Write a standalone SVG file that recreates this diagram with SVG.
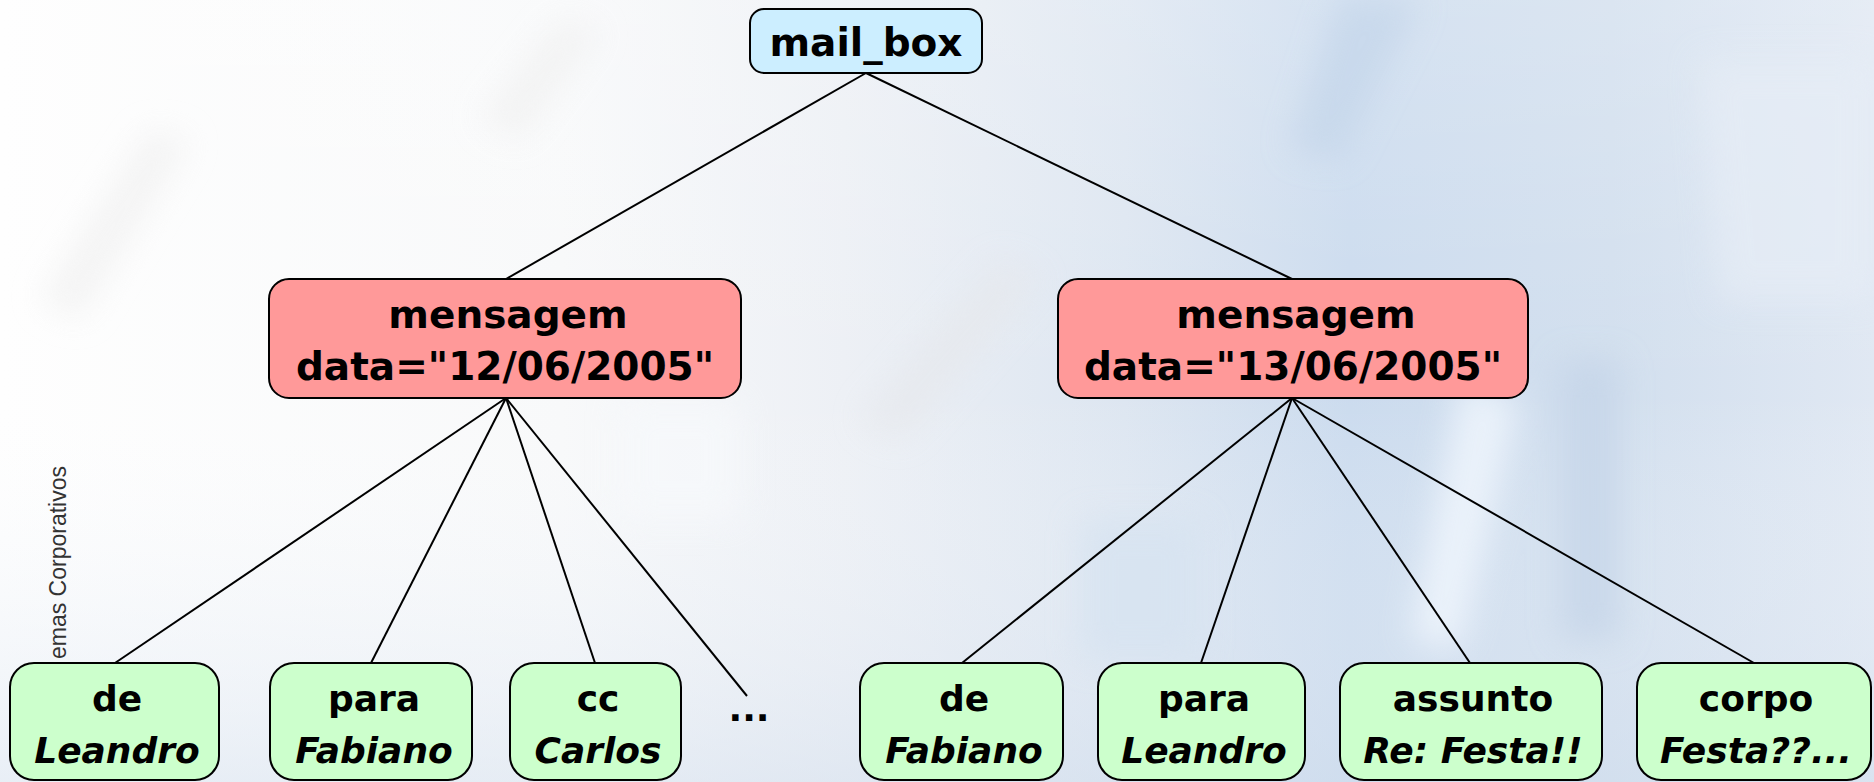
<svg xmlns="http://www.w3.org/2000/svg" width="1874" height="782" viewBox="0 0 1874 782">
  <defs>
    <linearGradient id="bgBase" x1="0" y1="0" x2="1" y2="0">
      <stop offset="0" stop-color="#fefefe"/>
      <stop offset="0.3" stop-color="#f8f9fa"/>
      <stop offset="0.45" stop-color="#edf0f5"/>
      <stop offset="0.6" stop-color="#dde6f1"/>
      <stop offset="0.72" stop-color="#cbdbee"/>
      <stop offset="0.86" stop-color="#d2dfee"/>
      <stop offset="1" stop-color="#e0e8f3"/>
    </linearGradient>
    <linearGradient id="bgShade" x1="0" y1="0" x2="0" y2="1">
      <stop offset="0" stop-color="#ffffff" stop-opacity="0.2"/>
      <stop offset="0.5" stop-color="#ffffff" stop-opacity="0"/>
      <stop offset="1" stop-color="#d3dfee" stop-opacity="0.5"/>
    </linearGradient>
    <filter id="soft" x="-20%" y="-20%" width="140%" height="140%">
      <feGaussianBlur stdDeviation="16"/>
    </filter>
    <style>
      .box { stroke: #000; stroke-width: 2; }
      .root { fill: #cceeff; }
      .msg { fill: #ff9999; }
      .leaf { fill: #ccffcc; }
      .lbl { font-family: "DejaVu Sans", Verdana, sans-serif; font-weight: bold; fill: #000; text-anchor: middle; }
      .big { font-size: 39px; }
      .small { font-size: 36px; }
      .val { font-style: italic; }
      .edge { stroke: #000; stroke-width: 2; fill: none; }
    </style>
  </defs>

  <!-- soft photographic backdrop -->
  <g id="background">
    <rect x="0" y="0" width="1874" height="782" fill="url(#bgBase)"/>
    <rect x="0" y="0" width="1874" height="782" fill="url(#bgShade)"/>
    <g filter="url(#soft)" opacity="0.7">
      <path d="M40 300 L150 130 L190 140 L80 320 Z" fill="#f0f0f0"/>
      <path d="M480 120 L560 20 L600 30 L520 140 Z" fill="#f0f0f0"/>
      <path d="M860 420 L1000 260 L1040 280 L900 440 Z" fill="#e6e8ec"/>
      <path d="M1340 0 L1420 0 L1340 160 L1290 150 Z" fill="#c4d6ea"/>
      <path d="M1460 380 L1520 400 L1460 650 L1410 640 Z" fill="#f4f9ff"/>
      <path d="M1560 360 L1620 360 L1620 640 L1560 640 Z" fill="#c4d4e8"/>
      <path d="M1700 60 L1874 60 L1874 300 L1720 300 Z" fill="#e6edf6"/>
      <path d="M1080 520 L1200 520 L1200 660 L1080 660 Z" fill="#d6e3f1"/>
      <path d="M620 400 L740 400 L740 520 L620 520 Z" fill="#f7f9fc"/>
    </g>
  </g>

  <!-- vertical side caption -->
  <text x="66" y="466" transform="rotate(-90 66 466)" text-anchor="end" font-family="'Liberation Sans', Arial, sans-serif" font-size="23" fill="#333">emas Corporativos</text>

  <!-- tree edges -->
  <g id="connectors">
    <line class="edge" x1="866" y1="73" x2="506" y2="279"/>
    <line class="edge" x1="866" y1="73" x2="1292" y2="279"/>
    <line class="edge" x1="506" y1="398" x2="115" y2="663"/>
    <line class="edge" x1="506" y1="398" x2="371" y2="663"/>
    <line class="edge" x1="506" y1="398" x2="595" y2="663"/>
    <line class="edge" x1="506" y1="398" x2="747" y2="696"/>
    <line class="edge" x1="1292" y1="398" x2="962" y2="663"/>
    <line class="edge" x1="1292" y1="398" x2="1201" y2="663"/>
    <line class="edge" x1="1292" y1="398" x2="1470" y2="663"/>
    <line class="edge" x1="1292" y1="398" x2="1754" y2="663"/>
  </g>

  <g id="mail_box">
    <rect class="box root" x="750" y="9" width="232" height="64" rx="14"/>
    <text class="lbl big" x="866" y="56">mail_box</text>
  </g>

  <g id="mensagem1">
    <rect class="box msg" x="269" y="279" width="472" height="119" rx="20"/>
    <text class="lbl big" x="508" y="328">mensagem</text>
    <text class="lbl big" x="505" y="380">data="12/06/2005"</text>
  </g>

  <g id="mensagem2">
    <rect class="box msg" x="1058" y="279" width="470" height="119" rx="20"/>
    <text class="lbl big" x="1296" y="328">mensagem</text>
    <text class="lbl big" x="1293" y="380">data="13/06/2005"</text>
  </g>

  <g id="de1">
    <rect class="box leaf" x="10" y="663" width="209" height="117" rx="24"/>
    <text class="lbl small" x="117" y="711">de</text>
    <text class="lbl small val" x="117" y="763">Leandro</text>
  </g>

  <g id="para1">
    <rect class="box leaf" x="270" y="663" width="202" height="117" rx="24"/>
    <text class="lbl small" x="374" y="711">para</text>
    <text class="lbl small val" x="374" y="763">Fabiano</text>
  </g>

  <g id="cc1">
    <rect class="box leaf" x="510" y="663" width="171" height="117" rx="24"/>
    <text class="lbl small" x="598" y="711">cc</text>
    <text class="lbl small val" x="598" y="763">Carlos</text>
  </g>

  <g id="more1">
    <text class="lbl small" x="749" y="721">...</text>
  </g>

  <g id="de2">
    <rect class="box leaf" x="860" y="663" width="203" height="117" rx="24"/>
    <text class="lbl small" x="964" y="711">de</text>
    <text class="lbl small val" x="964" y="763">Fabiano</text>
  </g>

  <g id="para2">
    <rect class="box leaf" x="1098" y="663" width="207" height="117" rx="24"/>
    <text class="lbl small" x="1204" y="711">para</text>
    <text class="lbl small val" x="1204" y="763">Leandro</text>
  </g>

  <g id="assunto2">
    <rect class="box leaf" x="1340" y="663" width="262" height="117" rx="24"/>
    <text class="lbl small" x="1473" y="711">assunto</text>
    <text class="lbl small val" x="1473" y="763">Re: Festa!!</text>
  </g>

  <g id="corpo2">
    <rect class="box leaf" x="1637" y="663" width="234" height="117" rx="24"/>
    <text class="lbl small" x="1756" y="711">corpo</text>
    <text class="lbl small val" x="1756" y="763">Festa??...</text>
  </g>
</svg>
